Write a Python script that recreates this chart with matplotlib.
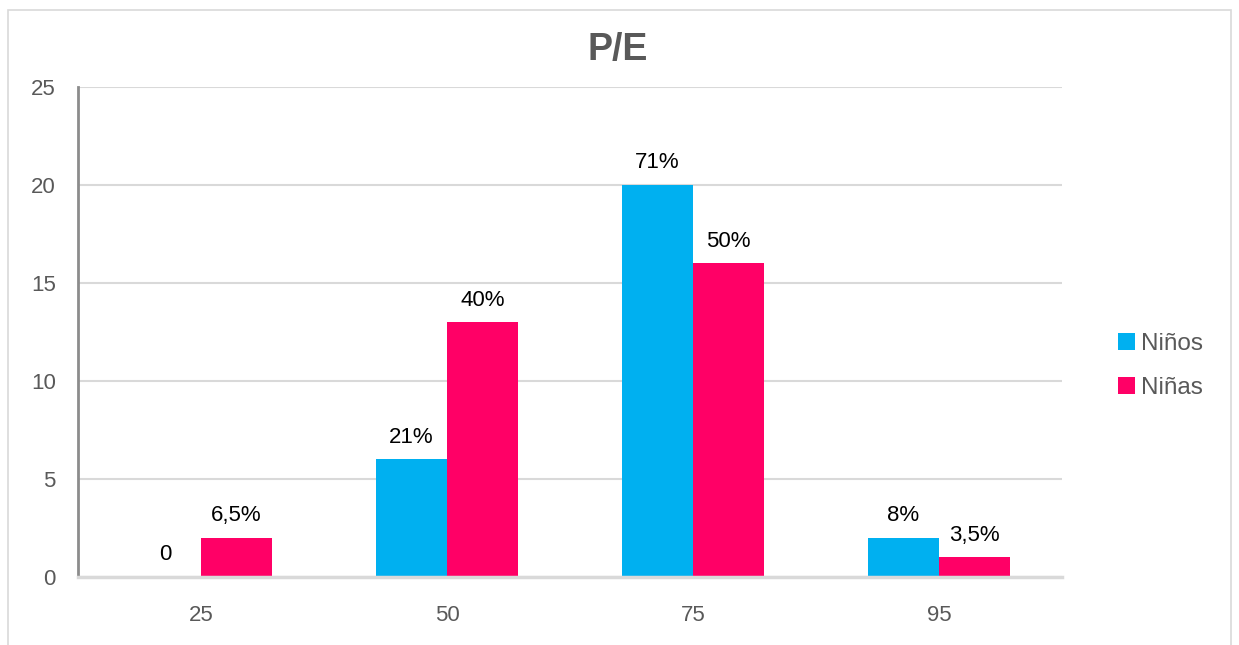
import numpy as np
import matplotlib.pyplot as plt
from matplotlib.patches import Rectangle

plt.rcParams['font.family'] = ['Liberation Sans', 'DejaVu Sans']

categories = ['25', '50', '75', '95']
ninos = [0, 6, 20, 2]
ninas = [2, 13, 16, 1]
ninos_labels = ['0', '21%', '71%', '8%']
ninas_labels = ['6,5%', '40%', '50%', '3,5%']

blue = '#00B0F0'
pink = '#FF0066'
text_gray = '#595959'
grid_gray = '#D9D9D9'

fig = plt.figure(figsize=(12.39, 6.45), dpi=100)
# light frame around the whole chart
fig.patches.append(Rectangle((8 / 1239, -0.05), 1223 / 1239, 1.05 - 10 / 645,
                             transform=fig.transFigure, fill=False,
                             edgecolor='#D9D9D9', linewidth=1.2))

ax = fig.add_axes([78 / 1239, 68 / 645, 984 / 1239, 490 / 645])

x = np.arange(len(categories))
width = 0.29
bars1 = ax.bar(x - width / 2, ninos, width, color=blue, label='Niños', zorder=3)
bars2 = ax.bar(x + width / 2, ninas, width, color=pink, label='Niñas', zorder=3)

for bars, labels in ((bars1, ninos_labels), (bars2, ninas_labels)):
    for b, lab in zip(bars, labels):
        ax.annotate(lab, (b.get_x() + b.get_width() / 2, b.get_height()),
                    xytext=(0, 12), textcoords='offset points',
                    ha='center', va='baseline', fontsize=16, color='black')

ax.set_xlim(-0.5, len(categories) - 0.5)
ax.set_ylim(0, 25)
ax.set_yticks(range(0, 26, 5))
ax.set_xticks(x)
ax.set_xticklabels(categories)
ax.tick_params(axis='both', length=0, labelsize=16, labelcolor=text_gray)
ax.tick_params(axis='y', pad=16)
ax.tick_params(axis='x', pad=20)
ax.grid(axis='y', color=grid_gray, linewidth=1.5, zorder=0)

for side in ('top', 'right'):
    ax.spines[side].set_visible(False)
ax.spines['left'].set_color('#8C8C8C')
ax.spines['left'].set_linewidth(2)
ax.spines['bottom'].set_color(grid_gray)
ax.spines['bottom'].set_linewidth(2.5)
ax.spines['bottom'].set_zorder(4)

fig.text(618 / 1239, 1 - 50 / 645, 'P/E', ha='center', va='center',
         fontsize=27, fontweight='bold', color=text_gray)

leg = fig.legend(handles=[bars1, bars2], loc='center left',
                 bbox_to_anchor=(1096 / 1239, 1 - 366 / 645), frameon=False,
                 fontsize=17.5, handlelength=0.7, handleheight=0.7,
                 handletextpad=0.25, labelspacing=0.9, labelcolor=text_gray)

fig.savefig('out.png', dpi=100)
